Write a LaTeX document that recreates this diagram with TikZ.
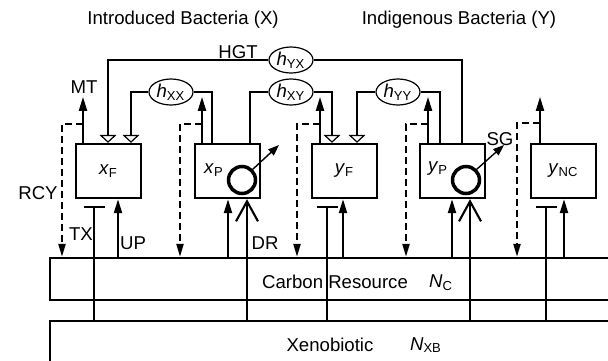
\documentclass[tikz,border=0pt]{standalone}
\usepackage{fontspec}
\setmainfont{Liberation Sans}
\usetikzlibrary{arrows.meta, shapes.geometric}

\begin{document}
\begin{tikzpicture}[x=0.5pt, y=-0.5pt, font=\fontsize{9.3}{11}\selectfont,
        line width=1.05pt,
        cell/.style={draw, line width=1.15pt, minimum width=32.5pt,
                     minimum height=27pt, inner sep=0pt},
        gene/.style={draw, ellipse, line width=0.6pt, minimum width=22pt,
                     minimum height=13pt, inner sep=0pt},
        plasmid/.style={draw, circle, line width=1.75pt, minimum size=13.5pt,
                        inner sep=0pt},
        strip/.style={draw, line width=1.15pt, minimum width=290pt, inner sep=0pt},
        lbl/.style={inner sep=0pt},
        flow/.style={-{Triangle[length=7pt, width=4pt]}},
        rcy/.style={-{Triangle[length=6.5pt, width=3.5pt]},
                    dash pattern=on 3.5pt off 2pt},
        hgt/.style={-{Triangle[open, length=4pt, width=8.5pt, line width=0.6pt]}},
        tox/.style={-{Bar[width=10.5pt]}},
        deg/.style={-{Straight Barb[length=10pt, width=11pt]}},
        sgarrow/.style={-{Triangle[length=5.5pt, width=4pt]}, line width=0.7pt}]
      \useasboundingbox (0,0) rectangle (608,360);
      % resource strips
      \node[strip, minimum height=21pt] (carbon) at (340,279) {};
      \node[strip, minimum height=40pt] (xeno) at (340,361) {};
      \node[lbl] (carbontxt) at (335,282) {Carbon Resource};
      \node[lbl] (nc) at (441,283) {\textit{N}\textsubscript{C}};
      \node[lbl] (xenotxt) at (330,345) {Xenobiotic};
      \node[lbl] (nxb) at (426,345) {\textit{N}\textsubscript{XB}};
      % populations
      \node[cell] (xF) at (108.5,171) {\textit{x}\textsubscript{F}};
      \node[cell] (xP) at (227.5,171) {};
      \node[cell] (yF) at (344.5,171) {\textit{y}\textsubscript{F}};
      \node[cell] (yP) at (452.5,171) {};
      \node[cell] (yNC) at (563.5,171) {\textit{y}\textsubscript{NC}};
      \node[lbl] (xPname) at (214,170) {\textit{x}\textsubscript{P}};
      \node[lbl] (yPname) at (438,169) {\textit{y}\textsubscript{P}};
      \node[plasmid] (xPpl) at (242,180) {};
      \node[plasmid] (yPpl) at (466,180) {};
      \coordinate (xPsg) at (279,145);
      \coordinate (yPsg) at (504,145);
      \draw[sgarrow] (xPpl.45) -- (xPsg);
      \draw[sgarrow] (yPpl.45) -- (yPsg);
      % transfer rates
      \node[gene] (hYX) at (291,60) {\textit{h}\textsubscript{YX}};
      \node[gene] (hXX) at (171,92) {\textit{h}\textsubscript{XX}};
      \node[gene] (hXY) at (291,92) {\textit{h}\textsubscript{XY}};
      \node[gene] (hYY) at (398,92) {\textit{h}\textsubscript{YY}};
      \draw ([xshift=4.75pt]yP.north) |- (hYX.east);
      \draw[hgt] (hYX.west) -| ([xshift=-0.25pt]xF.north);
      \draw ([xshift=-7.75pt]xP.north) |- (hXX.east);
      \draw[hgt] (hXX.west) -| ([xshift=11.25pt]xF.north);
      \draw ([xshift=11.25pt]xP.north) |- (hXY.west);
      \draw[hgt] (hXY.east) -| ([xshift=-6.25pt]yF.north);
      \draw ([xshift=-6.25pt]yP.north) |- (hYY.east);
      \draw[hgt] (hYY.west) -| ([xshift=6.25pt]yF.north);
      % mortality and recycling
      \draw[flow] ([xshift=-12.75pt]xF.north) -- ([xshift=-12.75pt,yshift=23pt]xF.north);
      \draw[rcy] ([xshift=-12.75pt,yshift=9.5pt]xF.north) -| ([xshift=-23.25pt]xF.north |- carbon.north);
      \draw[flow] ([xshift=-12.75pt]xP.north) -- ([xshift=-12.75pt,yshift=23pt]xP.north);
      \draw[rcy] ([xshift=-12.75pt,yshift=9.5pt]xP.north) -| ([xshift=-23.75pt]xP.north |- carbon.north);
      \draw[flow] ([xshift=-12.25pt]yF.north) -- ([xshift=-12.25pt,yshift=23pt]yF.north);
      \draw[rcy] ([xshift=-12.25pt,yshift=9.5pt]yF.north) -| ([xshift=-23.75pt]yF.north |- carbon.north);
      \draw[flow] ([xshift=-12.25pt]yP.north) -- ([xshift=-12.25pt,yshift=23pt]yP.north);
      \draw[rcy] ([xshift=-12.25pt,yshift=9.5pt]yP.north) -| ([xshift=-23.25pt]yP.north |- carbon.north);
      \draw[flow] ([xshift=-11.75pt]yNC.north) -- ([xshift=-11.75pt,yshift=23pt]yNC.north);
      \draw[rcy] ([xshift=-11.75pt,yshift=10pt]yNC.north) -| ([xshift=-23.25pt]yNC.north |- carbon.north);
      % uptake, toxicity and degradation
      \draw[tox] ([xshift=-7.25pt]xF.south |- xeno.north) -- ([xshift=-7.25pt,yshift=-3.5pt]xF.south);
      \draw[flow] ([xshift=4.75pt]xF.south |- carbon.north) -- ([xshift=4.75pt]xF.south);
      \draw[flow] ([xshift=0.25pt]xP.south |- carbon.north) -- ([xshift=0.25pt]xP.south);
      \draw[deg] ([xshift=9.75pt]xP.south |- xeno.north) -- ([xshift=9.75pt]xP.south);
      \draw[tox] ([xshift=-8.75pt]yF.south |- xeno.north) -- ([xshift=-8.75pt,yshift=-3.5pt]yF.south);
      \draw[flow] ([xshift=-0.75pt]yF.south |- carbon.north) -- ([xshift=-0.75pt]yF.south);
      \draw[flow] ([xshift=-0.25pt]yP.south |- carbon.north) -- ([xshift=-0.25pt]yP.south);
      \draw[deg] ([xshift=8.75pt]yP.south |- xeno.north) -- ([xshift=8.75pt]yP.south);
      \draw[tox] ([xshift=-8.75pt]yNC.south |- xeno.north) -- ([xshift=-8.75pt,yshift=-3.5pt]yNC.south);
      \draw[flow] ([xshift=0.25pt]yNC.south |- carbon.north) -- ([xshift=0.25pt]yNC.south);
      % labels
      \node (intro) at (183,20) {Introduced Bacteria (X)};
      \node (indig) at (459,20) {Indigenous Bacteria (Y)};
      \node[lbl] (hgtlbl) at (238,52) {HGT};
      \node[lbl] (mt) at (84,87) {MT};
      \node[lbl] (rcylbl) at (38,193) {RCY};
      \node[lbl] (tx) at (81,234) {TX};
      \node[lbl] (up) at (133,243) {UP};
      \node[lbl] (dr) at (265,243) {DR};
      \node[lbl] (sg) at (500,139) {SG};
    \end{tikzpicture}
\end{document}
